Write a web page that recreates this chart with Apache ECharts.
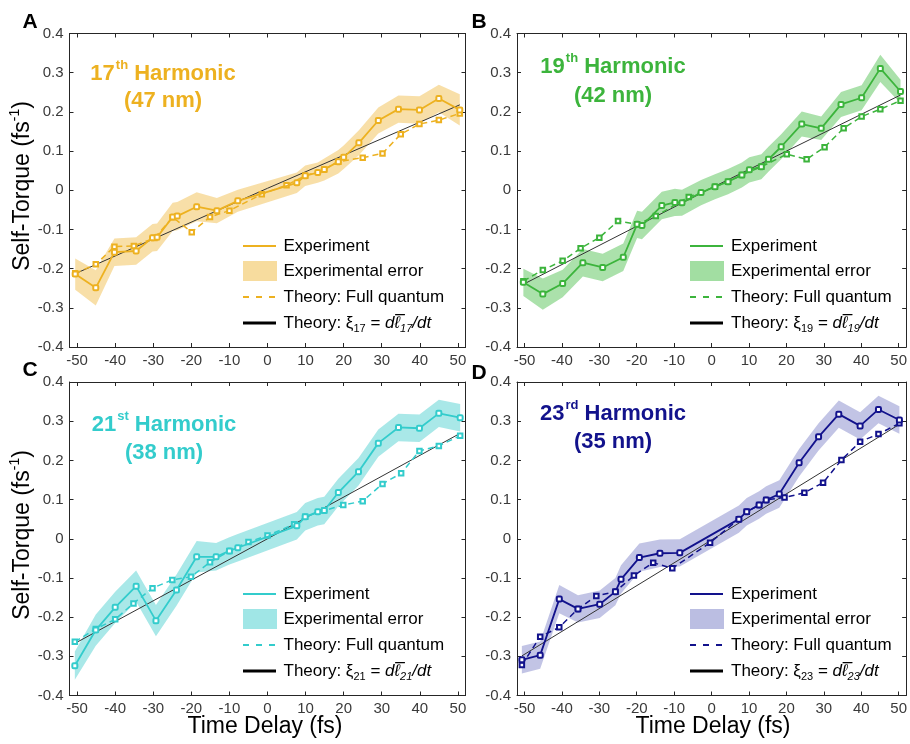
<!DOCTYPE html>
<html><head><meta charset="utf-8">
<script src="https://cdn.jsdelivr.net/npm/echarts@6/dist/echarts.min.js"></script>
<style>html,body{margin:0;padding:0;background:#fff}#c{width:910px;height:744px}</style>
</head><body><div id="c"></div>
<script>
// ---------- Tick labels ----------
const xTickVals = [-50,-40,-30,-20,-10,0,10,20,30,40,50];
const yTickMin = -0.4, yTickMax = 0.4, yTickStep = 0.1;

// ---------- Panel A : 17th harmonic ----------
const expXA = [-50.5,-45.1,-40.2,-34.5,-30.2,-29.0,-24.9,-23.7,-18.6,-13.3,-7.8,7.7,9.9,13.2,14.9,18.6,20.0,24.0,29.1,34.4,39.9,45.0,50.5];
const expYA = [-0.214,-0.249,-0.158,-0.155,-0.121,-0.120,-0.068,-0.066,-0.042,-0.052,-0.027,0.019,0.037,0.045,0.053,0.073,0.084,0.121,0.178,0.207,0.205,0.234,0.205];
const errA  = [0.04,0.045,0.035,0.035,0.035,0.035,0.036,0.036,0.037,0.032,0.028,0.026,0.026,0.026,0.028,0.03,0.03,0.032,0.033,0.035,0.035,0.035,0.04];
const thXA  = [-50.5,-45.1,-40.2,-35.1,-29.7,-24.9,-19.9,-15.1,-10.0,-1.5,5.0,9.9,14.9,18.6,25.0,30.2,35.0,39.9,45.0,50.5];
const thYA  = [-0.212,-0.189,-0.144,-0.142,-0.122,-0.069,-0.107,-0.068,-0.052,-0.010,0.013,0.037,0.053,0.073,0.083,0.094,0.143,0.169,0.179,0.196];
const clXA  = [-50.5,0,50.5];
const clYA  = [-0.213,0.005,0.218];

// ---------- Panel B : 19th harmonic ----------
const expXB = [-50.3,-45.1,-39.8,-34.4,-29.1,-23.6,-19.9,-18.6,-13.3,-9.8,-7.9,-2.8,0.9,4.4,8.1,10.1,13.3,15.2,18.6,24.1,29.3,34.6,40.1,45.1,50.5];
const expYB = [-0.235,-0.265,-0.238,-0.185,-0.197,-0.171,-0.087,-0.090,-0.039,-0.031,-0.032,-0.006,0.009,0.022,0.039,0.052,0.060,0.079,0.111,0.169,0.158,0.219,0.236,0.311,0.252];
const errB  = [0.035,0.04,0.035,0.035,0.035,0.035,0.035,0.035,0.035,0.035,0.033,0.032,0.032,0.032,0.032,0.032,0.032,0.032,0.032,0.032,0.03,0.032,0.032,0.035,0.03];
const thXB  = [-50.3,-45.1,-39.8,-35.0,-30.0,-25.0,-19.9,-14.9,-6.1,0.9,4.4,8.1,13.3,20.1,25.4,30.2,35.3,40.1,45.1,50.5];
const thYB  = [-0.232,-0.2035,-0.180,-0.148,-0.121,-0.0785,-0.087,-0.066,-0.017,0.009,0.022,0.039,0.060,0.092,0.079,0.110,0.158,0.188,0.207,0.2285];
const clXB  = [-50.3,0,50.5];
const clYB  = [-0.240,0.006,0.243];

// ---------- Panel C : 21st harmonic ----------
const expXC = [-50.6,-45.1,-40.0,-34.5,-29.3,-23.9,-18.6,-13.5,-10.0,-7.8,7.7,9.9,13.2,14.9,18.6,23.9,29.1,34.4,39.9,45.0,50.6];
const expYC = [-0.324,-0.233,-0.175,-0.121,-0.209,-0.131,-0.046,-0.046,-0.031,-0.023,0.033,0.056,0.069,0.072,0.118,0.171,0.244,0.284,0.282,0.320,0.309];
const errC  = [0.036,0.04,0.04,0.04,0.04,0.04,0.04,0.035,0.035,0.035,0.035,0.035,0.035,0.035,0.035,0.035,0.035,0.035,0.035,0.035,0.035];
const thXC  = [-50.6,-45.1,-40.0,-35.2,-30.2,-25.0,-20.1,-15.1,-10.0,-5.0,0.0,7.0,9.9,14.9,19.9,25.0,30.2,35.1,39.9,45.0,50.6];
const thYC  = [-0.263,-0.230,-0.2055,-0.165,-0.126,-0.105,-0.097,-0.060,-0.031,-0.008,0.008,0.037,0.056,0.072,0.086,0.096,0.140,0.167,0.224,0.237,0.263];
const clXC  = [-50.6,0,50.6];
const clYC  = [-0.267,0.0,0.269];

// ---------- Panel D : 23rd harmonic ----------
const expXD = [-50.7,-45.8,-40.7,-35.7,-29.9,-25.7,-24.2,-19.3,-13.8,-8.5,7.3,9.4,12.7,14.6,18.1,23.4,28.6,34.0,39.7,44.6,50.2];
const expYD = [-0.309,-0.297,-0.154,-0.179,-0.167,-0.135,-0.1035,-0.048,-0.037,-0.036,0.050,0.069,0.086,0.099,0.114,0.194,0.260,0.318,0.288,0.330,0.303];
const errD  = [0.035,0.035,0.036,0.035,0.035,0.035,0.036,0.036,0.035,0.035,0.035,0.035,0.035,0.035,0.035,0.035,0.035,0.035,0.035,0.035,0.035];
const thXD  = [-50.7,-45.8,-40.7,-35.7,-30.8,-25.7,-20.75,-15.6,-10.5,-0.4,7.3,9.4,12.7,14.6,19.5,24.8,29.8,34.7,39.7,44.6,50.2];
const thYD  = [-0.322,-0.250,-0.226,-0.179,-0.146,-0.135,-0.094,-0.061,-0.0755,-0.010,0.050,0.069,0.086,0.099,0.105,0.1175,0.143,0.201,0.2477,0.267,0.2946];
const clXD  = [-50.7,0,50.2];
const clYD  = [-0.299,-0.003,0.292];

// ---------- Texts ----------
const letters   = ['A','B','C','D'];
const harmNum   = ['17','19','21','23'];
const harmSup   = ['th','th','st','rd'];
const wavelen   = ['(47 nm)','(42 nm)','(38 nm)','(35 nm)'];
const legendTxt = ['Experiment','Experimental error','Theory: Full quantum'];
const xTitle = 'Time Delay (fs)';
const yTitle = 'Self-Torque (fs';

// ---------- Layout / style (not data) ----------
const FN = "'Liberation Sans Narrow','Arial Narrow','Liberation Sans',Arial,sans-serif";
const FR = "'Liberation Sans',Arial,Helvetica,sans-serif";
const W = 396, H = 313.5;
const panels = [
  {left:69.5, top:33.5, color:'#EDB120', band:'#F7DC9E', ex:expXA, ey:expYA, er:errA, tx:thXA, ty:thYA, cx:clXA, cy:clYA, tX:163, tY1:72, tY2:101, lX:30, lY:22},
  {left:517,  top:33.5, color:'#3CB43C', band:'#A2DEA2', ex:expXB, ey:expYB, er:errB, tx:thXB, ty:thYB, cx:clXB, cy:clYB, tX:613, tY1:65, tY2:96,  lX:479, lY:22},
  {left:69.5, top:382,  color:'#33CCCC', band:'#A0E6E6', ex:expXC, ey:expYC, er:errC, tx:thXC, ty:thYC, cx:clXC, cy:clYC, tX:164, tY1:423, tY2:453, lX:30, lY:370},
  {left:517,  top:382,  color:'#12128C', band:'#BBBEE2', ex:expXD, ey:expYD, er:errD, tx:thXD, ty:thYD, cx:clXD, cy:clYD, tX:613, tY1:412, tY2:442, lX:479, lY:373}
];

const option = {animation:false, backgroundColor:'#fff', grid:[], xAxis:[], yAxis:[], series:[], graphic:[]};
const axColor = '#262626';
panels.forEach((p,i)=>{
  option.grid.push({left:p.left, top:p.top, width:W, height:H});
  const line = {show:true, onZero:false, lineStyle:{color:axColor, width:1}};
  const xt = {show:true, inside:true, length:4, lineStyle:{color:axColor}, customValues:xTickVals};
  option.xAxis.push({type:'value', gridIndex:i, min:-52, max:52, position:'bottom', axisLine:line, axisTick:xt,
    axisLabel:{customValues:xTickVals, color:'#3a3a3a', fontFamily:FN, fontSize:15, margin:6}, splitLine:{show:false}});
  option.xAxis.push({type:'value', gridIndex:i, min:-52, max:52, position:'top', axisLine:line, axisTick:xt,
    axisLabel:{show:false}, splitLine:{show:false}});
  const yt = {show:true, inside:true, length:4, lineStyle:{color:axColor}};
  option.yAxis.push({type:'value', gridIndex:i, min:yTickMin, max:yTickMax, interval:yTickStep, position:'left', axisLine:line, axisTick:yt,
    axisLabel:{color:'#3a3a3a', fontFamily:FN, fontSize:15, margin:6, formatter:v=>String(Math.round(v*10)/10)}, splitLine:{show:false}});
  option.yAxis.push({type:'value', gridIndex:i, min:yTickMin, max:yTickMax, interval:yTickStep, position:'right', axisLine:line, axisTick:yt,
    axisLabel:{show:false}, splitLine:{show:false}});
  const xi = 2*i, yi = 2*i;
  const base = {xAxisIndex:xi, yAxisIndex:yi, silent:true};
  // error band: one polygon through the library's coordinate system
  const bandData = p.ex.map((x,j)=>[x, p.ey[j]-p.er[j], p.ey[j]+p.er[j]]);
  option.series.push(Object.assign({}, base, {type:'custom', name:'band'+i, z:1, clip:true,
    encode:{x:0, y:[1,2]}, data:bandData,
    renderItem:(params, api)=>{
      if (params.dataIndex !== 0) return null;
      const up = bandData.map(d=>api.coord([d[0], d[2]]));
      const dn = bandData.map(d=>api.coord([d[0], d[1]])).reverse();
      return {type:'polygon', shape:{points:up.concat(dn)}, style:{fill:p.band, opacity:0.9}};
    }}));
  option.series.push(Object.assign({}, base, {type:'line', name:'cl'+i, symbol:'none', z:2,
    lineStyle:{color:'#333', width:1}, data:p.cx.map((x,j)=>[x, p.cy[j]])}));
  option.series.push(Object.assign({}, base, {type:'line', name:'th'+i, symbol:'emptyRect', symbolSize:4.5, z:3,
    itemStyle:{color:p.color, borderWidth:1.2}, lineStyle:{color:p.color, width:1.5, type:[6,4]}, data:p.tx.map((x,j)=>[x, p.ty[j]])}));
  option.series.push(Object.assign({}, base, {type:'line', name:'ex'+i, symbol:'emptyRoundRect', symbolSize:5, z:4,
    itemStyle:{color:p.color, borderWidth:1.6}, lineStyle:{color:p.color, width:1.8}, data:p.ex.map((x,j)=>[x, p.ey[j]])}));

  // panel letter
  option.graphic.push({type:'text', x:p.lX, y:p.lY, style:{text:letters[i], fill:'#000', font:'bold 21px '+FR, align:'center', verticalAlign:'middle'}});
  // titles
  option.graphic.push({type:'text', x:p.tX, y:p.tY1, style:{text:'{a|'+harmNum[i]+'}{s|'+harmSup[i]+'}{a| Harmonic}', align:'center', verticalAlign:'middle',
    rich:{a:{fontSize:22, fontWeight:'bold', fontFamily:FR, fill:p.color, lineHeight:26, verticalAlign:'bottom'},
          s:{fontSize:13, fontWeight:'bold', fontFamily:FR, fill:p.color, lineHeight:26, verticalAlign:'top', padding:[0,0,0,1]}}}});
  option.graphic.push({type:'text', x:p.tX, y:p.tY2, style:{text:wavelen[i], align:'center', verticalAlign:'middle', font:'bold 22px '+FR, fill:p.color}});
  // legend
  const rows = [212,237,263,289].map(r=>Math.round(p.top+r));
  const lx0 = Math.round(p.left+173), lx1 = lx0+33, tx = p.left+214;
  option.graphic.push({type:'line', z:10, shape:{x1:lx0,y1:rows[0],x2:lx1,y2:rows[0]}, style:{stroke:p.color, lineWidth:2}});
  option.graphic.push({type:'rect', z:10, shape:{x:lx0, y:rows[1]-10, width:34, height:20}, style:{fill:p.band}});
  option.graphic.push({type:'line', z:10, shape:{x1:lx0,y1:rows[2],x2:lx1,y2:rows[2]}, style:{stroke:p.color, lineWidth:2, lineDash:[6,7]}});
  option.graphic.push({type:'line', z:10, shape:{x1:lx0,y1:rows[3],x2:lx1,y2:rows[3]}, style:{stroke:'#000', lineWidth:3}});
  for (let k=0;k<3;k++) option.graphic.push({type:'text', z:10, x:tx, y:rows[k], style:{text:legendTxt[k], font:'17px '+FR, fill:'#000', align:'left', verticalAlign:'middle'}});
  option.graphic.push({type:'text', z:10, x:tx, y:rows[3], style:{
    text:'{n|Theory: \u03BE}{sb|'+harmNum[i]+'}{n| = }{it|d\u2113\u0305}{isb|'+harmNum[i]+'}{it|/dt}', align:'left', verticalAlign:'middle',
    rich:{n:{fontSize:17, fontFamily:FR, fill:'#000', lineHeight:22, verticalAlign:'middle'},
          sb:{fontSize:11, fontFamily:FR, fill:'#000', lineHeight:22, verticalAlign:'bottom'},
          it:{fontSize:17, fontFamily:FR, fontStyle:'italic', fill:'#000', lineHeight:22, verticalAlign:'middle'},
          isb:{fontSize:11, fontFamily:FR, fontStyle:'italic', fill:'#000', lineHeight:22, verticalAlign:'bottom'}}}});
});
// axis titles
[186, 535].forEach(cy=>{
  option.graphic.push({type:'text', x:21, y:cy, rotation:Math.PI/2, style:{text:'{a|'+yTitle+'}{s|-1}{a|)}', align:'center', verticalAlign:'middle',
    rich:{a:{fontSize:23, fontFamily:FN, fill:'#000', lineHeight:26, verticalAlign:'bottom'}, s:{fontSize:14, fontFamily:FN, fill:'#000', lineHeight:26, verticalAlign:'top'}}}});
});
[265, 713].forEach(cx=>{
  option.graphic.push({type:'text', x:cx, y:727, style:{text:xTitle, font:'23px '+FN, fill:'#000', align:'center', verticalAlign:'middle'}});
});

const chart = echarts.init(document.getElementById('c'), null, {renderer:'canvas'});
chart.setOption(option);
</script></body></html>
